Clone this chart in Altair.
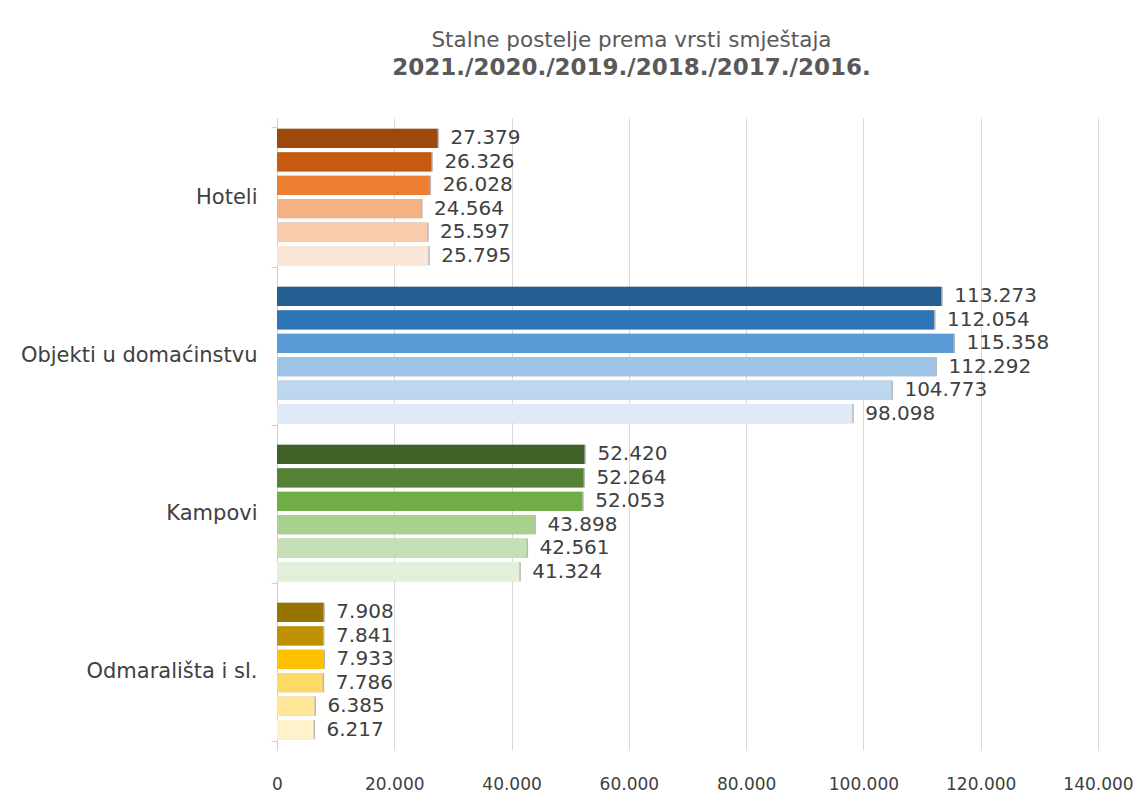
import altair as alt
import pandas as pd

categories = ["Hoteli", "Objekti u domaćinstvu", "Kampovi", "Odmarališta i sl."]
years = ["2021.", "2020.", "2019.", "2018.", "2017.", "2016."]
hoteli = [27379, 26326, 26028, 24564, 25597, 25795]
objekti = [113273, 112054, 115358, 112292, 104773, 98098]
kampovi = [52420, 52264, 52053, 43898, 42561, 41324]
odmaralista = [7908, 7841, 7933, 7786, 6385, 6217]

hoteli_colors = ["#9E480E", "#C55A11", "#ED7D31", "#F4B183", "#F8CBAD", "#FBE5D6"]
objekti_colors = ["#255E91", "#2E75B6", "#5B9BD5", "#9DC3E6", "#BDD7EE", "#DEEBF7"]
kampovi_colors = ["#3F6229", "#548235", "#70AD47", "#A9D18E", "#C5E0B4", "#E2F0D9"]
odmaralista_colors = ["#997300", "#BF9000", "#FFC000", "#FFD966", "#FFE699", "#FFF2CC"]

series = [hoteli, objekti, kampovi, odmaralista]
palettes = [hoteli_colors, objekti_colors, kampovi_colors, odmaralista_colors]

rows = []
for cat, vals, pal in zip(categories, series, palettes):
    for yr, v, c in zip(years, vals, pal):
        rows.append({"cat": cat, "year": yr, "value": v, "color": c,
                     "label": f"{v:,}".replace(",", ".")})
df = pd.DataFrame(rows)

FONT = "DejaVu Sans"

y_enc = alt.Y("cat:N", sort=categories,
              scale=alt.Scale(paddingInner=0.12, paddingOuter=0.06),
              axis=alt.Axis(title=None, labelFontSize=21, labelColor="#404040",
                            labelPadding=14, labelFont=FONT, domain=True,
                            domainColor="#D0D0D0", ticks=True, tickBand="extent",
                            tickColor="#D0D0D0", tickSize=6, labelLimit=400))
yoff = alt.YOffset("year:N", sort=years, scale=alt.Scale(paddingInner=0.18, paddingOuter=0.05))
x_enc = alt.X("value:Q", scale=alt.Scale(domain=[0, 140000], nice=False),
              axis=alt.Axis(title=None, values=[0, 20000, 40000, 60000, 80000, 100000, 120000, 140000],
                            labelExpr="replace(format(datum.value, ','), ',', '.')",
                            labelFontSize=17, labelColor="#404040", labelFont=FONT,
                            labelPadding=26, labelFlush=False, domain=False, ticks=False,
                            grid=True, gridColor="#D9D9D9"))

base = alt.Chart(df)
shadow = base.mark_bar(color="#000000", opacity=0.28, xOffset=1.5, yOffset=2.5).encode(
    y=y_enc, yOffset=yoff, x=x_enc)
bars = base.mark_bar().encode(
    y=y_enc, yOffset=yoff, x=x_enc, color=alt.Color("color:N", scale=None))
text = base.mark_text(align="left", baseline="middle", dx=13, fontSize=20,
                      font=FONT, color="#404040").encode(
    y=y_enc, yOffset=yoff, x=x_enc, text="label:N")

chart = alt.layer(shadow, bars, text).properties(
    width=821, height=632,
    title=alt.TitleParams(
        text="Stalne postelje prema vrsti smještaja",
        subtitle="2021./2020./2019./2018./2017./2016.",
        fontSize=21.5, fontWeight="normal", color="#595959", font=FONT,
        subtitleFontSize=23, subtitleFontWeight="bold", subtitleColor="#595959",
        subtitleFont=FONT, subtitlePadding=6,
        anchor="middle", dx=-56, offset=27),
    autosize=alt.AutoSizeParams(type="none"),
    padding={"left": 269, "top": 110, "right": 36, "bottom": 46},
).configure(background="white").configure_view(stroke=None)

chart.save("out.html", embed_options={"renderer": "svg", "actions": False})
